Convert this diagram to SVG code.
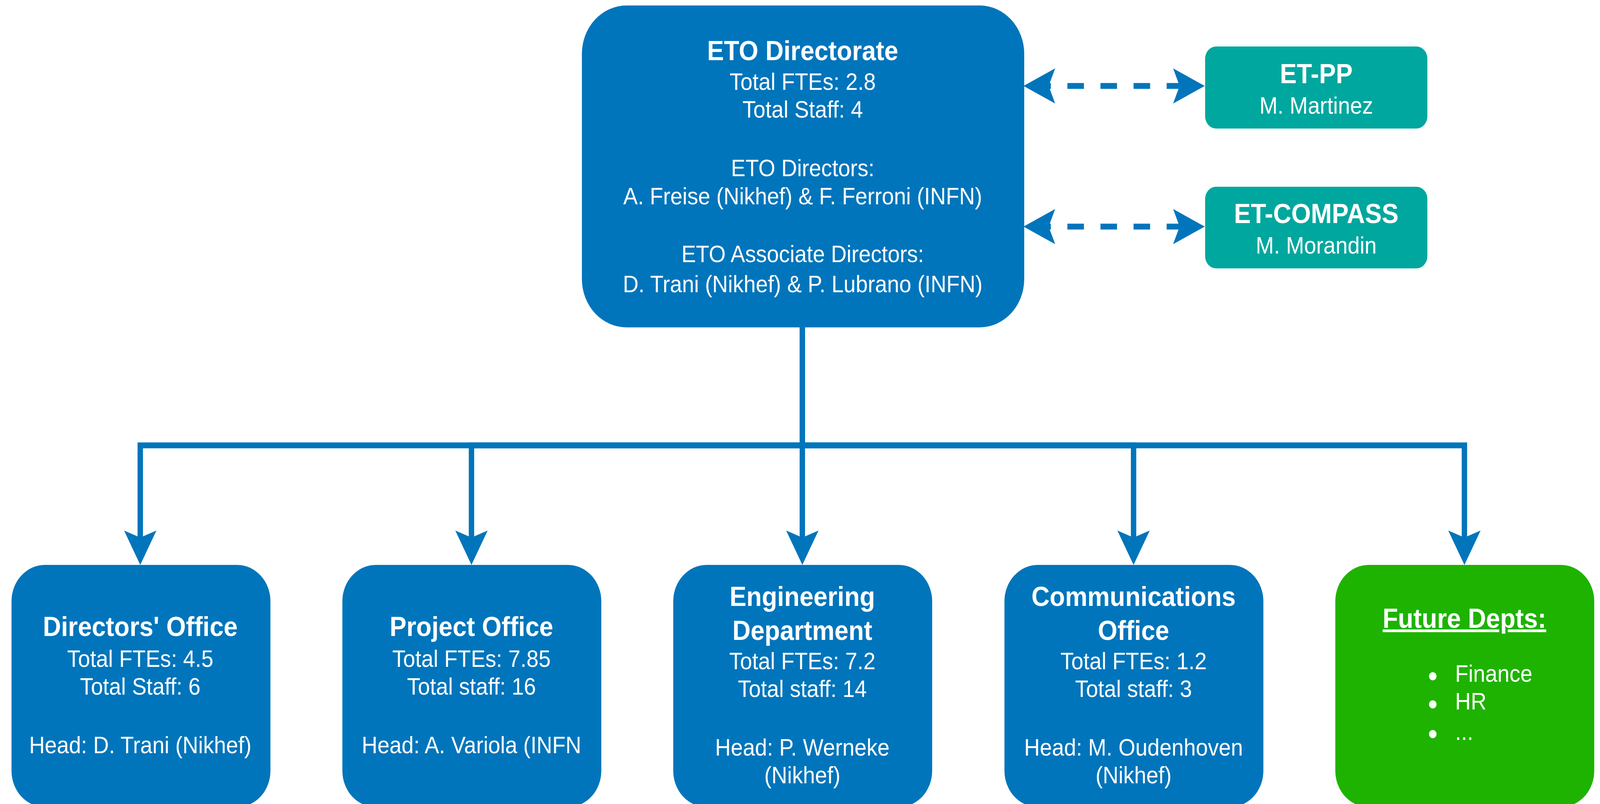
<svg xmlns="http://www.w3.org/2000/svg" width="4449" height="2058" viewBox="0 0 4449 2058" preserveAspectRatio="none">
<style>
  svg:root { width: 100vw; height: 100vh; display: block; }
  .blue { fill: #0175BB; }
  .teal { fill: #00A79E; }
  .green { fill: #1EB300; }
  text { font-family: "Liberation Sans", Arial, sans-serif; fill: #FFFFFF; text-anchor: middle; }
  .t { font-size: 70px; font-weight: bold; }
  .n { font-size: 60.5px; }
  .l { text-anchor: start; }
  .conn { fill: none; stroke: #0175BB; stroke-width: 15; stroke-linejoin: miter; }
  .dash { stroke-dasharray: 46 46; stroke-dashoffset: 40; }
</style>
<defs>
  <marker id="arr" markerUnits="userSpaceOnUse" orient="auto-start-reverse" refX="0" refY="0" markerWidth="100" markerHeight="100" viewBox="-20 -50 100 100" overflow="visible">
    <path d="M70,0 L-18,-45 L0,0 L-18,45 Z" fill="#0175BB" stroke="none"/>
  </marker>
</defs>

<g id="connectors">
  <path class="conn dash" d="M2916,220 H3280" marker-start="url(#arr)" marker-end="url(#arr)"/>
  <path class="conn dash" d="M2916,580 H3280" marker-start="url(#arr)" marker-end="url(#arr)"/>
  <path class="conn" d="M2231,838 V1140 H390 V1376" marker-end="url(#arr)"/>
  <path class="conn" d="M2231,838 V1140 H1311 V1376" marker-end="url(#arr)"/>
  <path class="conn" d="M2231,838 V1376" marker-end="url(#arr)"/>
  <path class="conn" d="M2231,838 V1140 H3152 V1376" marker-end="url(#arr)"/>
  <path class="conn" d="M2231,838 V1140 H4072 V1376" marker-end="url(#arr)"/>
</g>

<g id="eto-directorate">
  <rect class="blue" x="1618" y="14" width="1230" height="824" rx="124" ry="124"/>
  <text class="t" x="2232" y="154">ETO Directorate</text>
  <text class="n" x="2232" y="230">Total FTEs: 2.8</text>
  <text class="n" x="2232" y="301">Total Staff: 4</text>
  <text class="n" x="2232" y="451">ETO Directors:</text>
  <text class="n" x="2232" y="523">A. Freise (Nikhef) &amp; F. Ferroni (INFN)</text>
  <text class="n" x="2232" y="671">ETO Associate Directors:</text>
  <text class="n" x="2232" y="748">D. Trani (Nikhef) &amp; P. Lubrano (INFN)</text>
</g>

<g id="et-pp">
  <rect class="teal" x="3351" y="119" width="618" height="210" rx="31" ry="31"/>
  <text class="t" x="3660" y="213">ET-PP</text>
  <text class="n" x="3660" y="291">M. Martinez</text>
</g>

<g id="et-compass">
  <rect class="teal" x="3351" y="478" width="618" height="209" rx="31" ry="31"/>
  <text class="t" x="3660" y="571">ET-COMPASS</text>
  <text class="n" x="3660" y="649">M. Morandin</text>
</g>

<g id="directors-office">
  <rect class="blue" x="32" y="1446" width="720" height="620" rx="93" ry="93"/>
  <text class="t" x="390" y="1628">Directors' Office</text>
  <text class="n" x="390" y="1707">Total FTEs: 4.5</text>
  <text class="n" x="390" y="1778">Total Staff: 6</text>
  <text class="n" x="390" y="1928">Head: D. Trani (Nikhef)</text>
</g>

<g id="project-office">
  <rect class="blue" x="952" y="1446" width="720" height="620" rx="93" ry="93"/>
  <text class="t" x="1311" y="1628">Project Office</text>
  <text class="n" x="1311" y="1707">Total FTEs: 7.85</text>
  <text class="n" x="1311" y="1778">Total staff: 16</text>
  <text class="n" x="1311" y="1928">Head: A. Variola (INFN</text>
</g>

<g id="engineering-department">
  <rect class="blue" x="1872" y="1446" width="720" height="620" rx="93" ry="93"/>
  <text class="t" x="2231" y="1551">Engineering</text>
  <text class="t" x="2231" y="1638">Department</text>
  <text class="n" x="2231" y="1713">Total FTEs: 7.2</text>
  <text class="n" x="2231" y="1784">Total staff: 14</text>
  <text class="n" x="2231" y="1934">Head: P. Werneke</text>
  <text class="n" x="2231" y="2005">(Nikhef)</text>
</g>

<g id="communications-office">
  <rect class="blue" x="2793" y="1446" width="720" height="620" rx="93" ry="93"/>
  <text class="t" x="3152" y="1551">Communications</text>
  <text class="t" x="3152" y="1638">Office</text>
  <text class="n" x="3152" y="1713">Total FTEs: 1.2</text>
  <text class="n" x="3152" y="1784">Total staff: 3</text>
  <text class="n" x="3152" y="1934">Head: M. Oudenhoven</text>
  <text class="n" x="3152" y="2005">(Nikhef)</text>
</g>

<g id="future-depts">
  <rect class="green" x="3713" y="1446" width="720" height="620" rx="93" ry="93"/>
  <text class="t" x="4072" y="1607" text-decoration="underline">Future Depts:</text>
  <circle cx="3984" cy="1731" r="10.5" fill="#FFFFFF"/>
  <circle cx="3984" cy="1803" r="10.5" fill="#FFFFFF"/>
  <circle cx="3984" cy="1879" r="10.5" fill="#FFFFFF"/>
  <text class="n l" x="4046" y="1745">Finance</text>
  <text class="n l" x="4046" y="1816">HR</text>
  <text class="n l" x="4046" y="1894">...</text>
</g>
</svg>
